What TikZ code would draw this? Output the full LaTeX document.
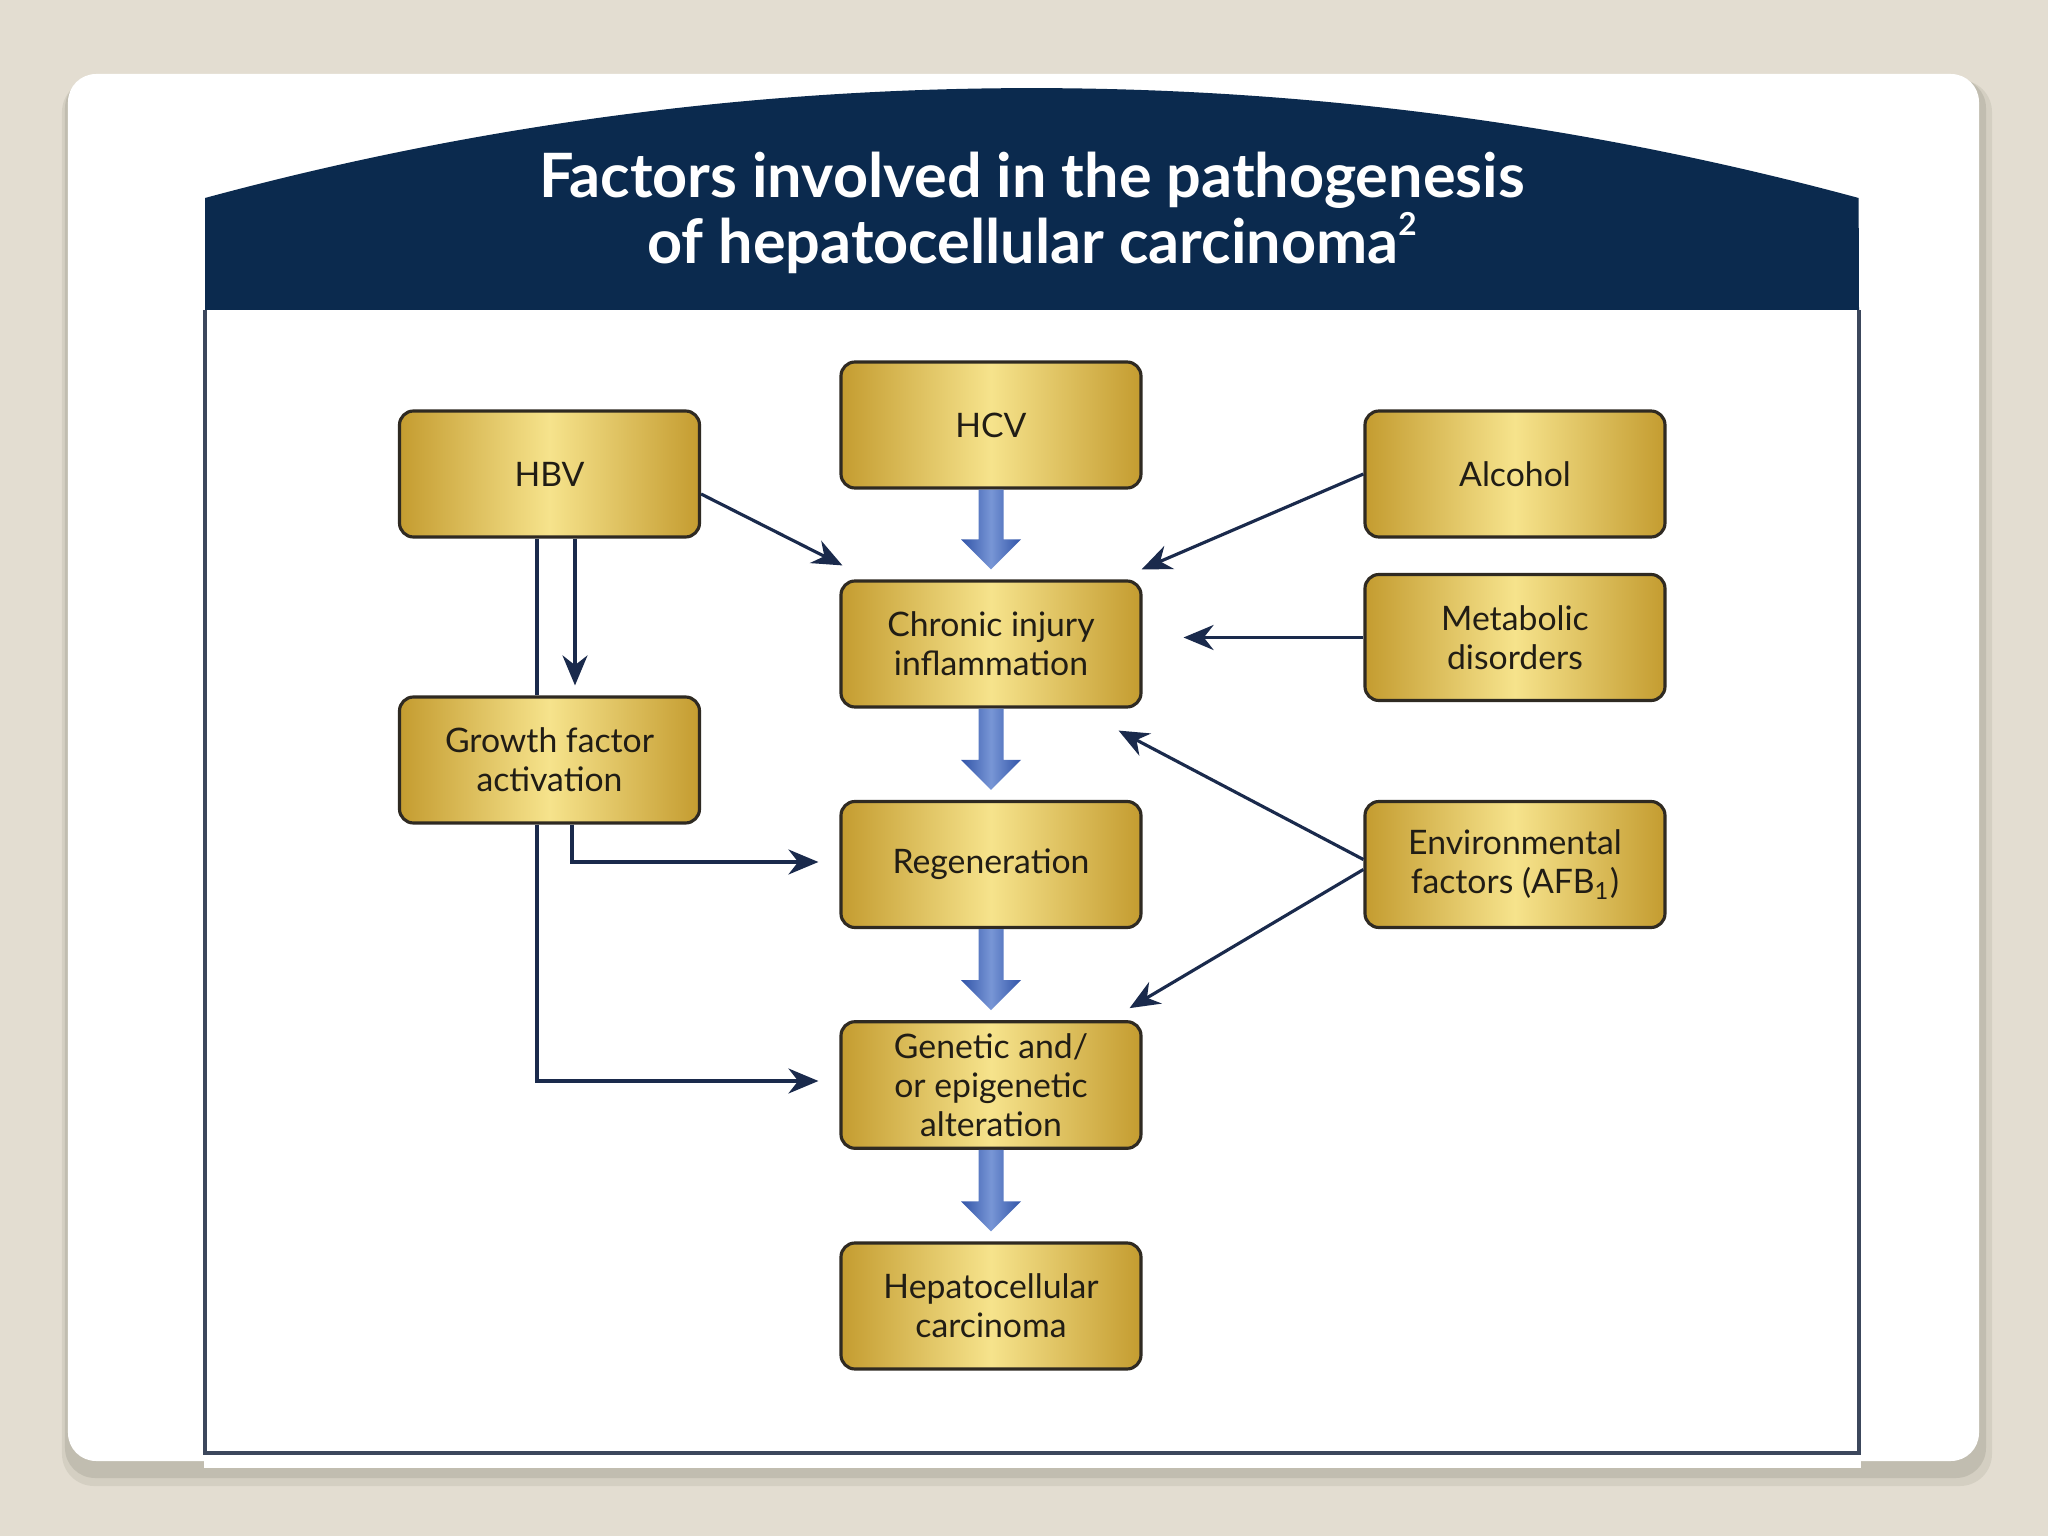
\documentclass[tikz,border=0pt]{standalone}
\usepackage{fontspec}
\setmainfont{Lato}
\usetikzlibrary{calc, arrows.meta, shapes.geometric}

\definecolor{pagebg}{HTML}{E3DDD1}
\definecolor{shadowc}{HTML}{B3B0A2}
\definecolor{navy}{HTML}{0B2A4E}
\definecolor{framec}{HTML}{3C475C}
\definecolor{golddark}{HTML}{C49C30}
\definecolor{goldlight}{HTML}{F6E38C}
\definecolor{boxline}{HTML}{2F2A22}
\definecolor{inkc}{HTML}{211D15}
\definecolor{arrowc}{HTML}{1A2A4C}
\definecolor{bluedark}{HTML}{3255A8}
\definecolor{bluelight}{HTML}{7896D6}

\begin{document}
\begin{tikzpicture}[
    factor/.style={draw=boxline, line width=0.9pt, rounded corners=0.14cm,
        left color=golddark, right color=golddark, middle color=goldlight,
        minimum width=3.0cm, minimum height=1.26cm, align=center, text=inkc,
        font=\fontsize{9.6pt}{11.1pt}\selectfont},
    thin/.style={draw=arrowc, line width=0.9pt, -{Stealth[length=0.30cm, width=0.25cm]}},
    plain/.style={draw=arrowc, line width=0.9pt},
    fat/.style={left color=bluedark, right color=bluedark, middle color=bluelight}
]
    \def\shaft{0.125}  % half width of the thick arrow shaft
    \def\head{0.30}    % half width of the head
    \def\hlen{0.30}    % head length
    \def\gap{0.10}     % gap before the next box
    % page and card
    \useasboundingbox (0,0) rectangle (20.48,-15.36);
    \fill[pagebg] (0,0) rectangle (20.48,-15.36);
    \fill[shadowc, opacity=0.3, rounded corners=0.32cm] (0.62,-0.80) rectangle (19.92,-14.86);
    \fill[shadowc, opacity=0.55, rounded corners=0.30cm] (0.65,-0.78) rectangle (19.86,-14.78);
    \fill[white, rounded corners=0.28cm] (0.68,-0.74) rectangle (19.79,-14.61);
    \fill[white] (2.04,-14.50) rectangle (18.61,-14.68);
    % header band
    \fill[navy] (2.05,-3.10) -- (2.05,-1.98) arc[start angle=105.15, end angle=74.85, radius=31.64] -- (18.59,-3.10) -- cycle;
    \draw[framec, line width=1.1pt] (2.05,-3.10) -- (2.05,-14.53) -- (18.59,-14.53) -- (18.59,-3.10);
    \node[text=white, align=center, font=\fontsize{17.4pt}{19pt}\selectfont\bfseries] (title) at (10.32,-2.13)
        {Factors involved in the pathogenesis\\of hepatocellular carcinoma\raisebox{0.9ex}{\fontsize{9pt}{9pt}\selectfont 2}};

    % boxes
    \node[factor] (hbv) at (5.495,-4.74) {HBV};
    \node[factor] (hcv) at (9.91,-4.25) {HCV};
    \node[factor] (alcohol) at (15.15,-4.74) {Alcohol};
    \node[factor] (chronic) at (9.91,-6.44) {Chronic injury\\inflammation};
    \node[factor] (metabolic) at (15.15,-6.375) {Metabolic\\disorders};
    \node[factor] (growth) at (5.495,-7.60) {Growth factor\\activation};
    \node[factor] (regen) at (9.91,-8.645) {Regeneration};
    \node[factor] (env) at (15.15,-8.645) {Environmental\\factors (AFB\textsubscript{1})};
    \node[factor] (genetic) at (9.91,-10.85) {Genetic and/\\or epigenetic\\alteration};
    \node[factor] (hcc) at (9.91,-13.06) {Hepatocellular\\carcinoma};

    % thick arrows down the middle
    \foreach \a/\b in {hcv/chronic, chronic/regen, regen/genetic, genetic/hcc} {
        \path[fat] let \p1=(\a.south), \p2=(\b.north) in
            (\x1-\shaft cm,\y1) -- (\x1+\shaft cm,\y1) -- (\x1+\shaft cm,\y2+\gap cm+\hlen cm)
            -- (\x1+\head cm,\y2+\gap cm+\hlen cm) -- (\x1,\y2+\gap cm)
            -- (\x1-\head cm,\y2+\gap cm+\hlen cm) -- (\x1-\shaft cm,\y2+\gap cm+\hlen cm) -- cycle;
    };

    % thin arrows
    \draw[thin] ([yshift=-0.2cm]hbv.east) -- ([xshift=0.03cm, yshift=0.14cm]chronic.north west);
    \draw[thin] (alcohol.west) -- ([xshift=-0.01cm, yshift=0.10cm]chronic.north east);
    \draw[thin] (metabolic.west) -- ($(chronic.east |- metabolic.west)+(0.41,0)$);
    \draw[thin] ([yshift=0.05cm]env.west) -- ([xshift=-0.24cm, yshift=-0.22cm]chronic.south east);
    \draw[thin] ([yshift=-0.05cm]env.west) -- ([xshift=-0.13cm, yshift=0.12cm]genetic.north east);
    \draw[thin] ([xshift=0.255cm]hbv.south) -- ([xshift=0.255cm, yshift=0.10cm]growth.north);
    \draw[plain] ([xshift=-0.125cm]hbv.south) -- ([xshift=-0.125cm]growth.north);
    \draw[thin] ([xshift=-0.125cm]growth.south) |- ([xshift=-0.21cm, yshift=0.04cm]genetic.west);
    \draw[thin] ([xshift=0.225cm]growth.south) |- ([xshift=-0.21cm, yshift=0.025cm]regen.west);
\end{tikzpicture}
\end{document}
